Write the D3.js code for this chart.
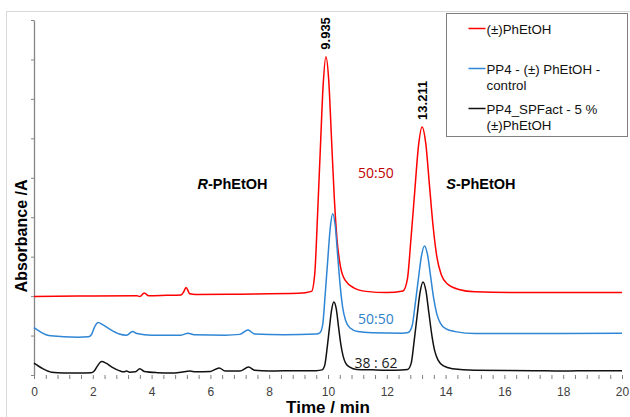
<!DOCTYPE html>
<html>
<head>
<meta charset="utf-8">
<script src="https://cdn.jsdelivr.net/npm/d3@7"></script>
<style>
body { margin: 0; background: #fff; }
svg { display: block; font-family: Arial, "Liberation Sans", sans-serif; }
</style>
</head>
<body>
<svg class="chart" width="630" height="417"></svg>
<script>
// retention time (min) / absorbance (arbitrary units)
const xTickLabels = [0, 2, 4, 6, 8, 10, 12, 14, 16, 18, 20];

const racemic = [
	[0, 1.99], [1.5, 2.0], [3.5, 2.01], [3.6, 1.99], [3.75, 2.08], [3.9, 2.01],
	[4.5, 2.02], [5.0, 2.03], [5.1, 2.12], [5.17, 2.22], [5.3, 2.06], [5.5, 2.04],
	[7.0, 2.05], [9.0, 2.07], [9.44, 2.12],
	[9.55, 2.57], [9.645, 4.06], [9.74, 5.74], [9.835, 7.35], [9.93, 8.07],
	[10.025, 7.47], [10.12, 5.98], [10.215, 4.48], [10.31, 3.41], [10.424, 2.75],
	[10.595, 2.39], [10.88, 2.21], [11.3, 2.12], [12.0, 2.09], [12.55, 2.13],
	[12.7, 2.43], [12.825, 3.48], [12.95, 4.65], [13.075, 5.79], [13.2, 6.29],
	[13.325, 5.87], [13.45, 4.82], [13.575, 3.77], [13.7, 3.01], [13.85, 2.55],
	[14.075, 2.3], [14.45, 2.17], [15.0, 2.11], [16.5, 2.09], [18.0, 2.09], [20.0, 2.09]
];

const control = [
	[0, 1.2], [0.25, 1.08], [0.5, 1.0], [1.0, 0.97], [1.5, 0.96], [1.85, 0.97],
	[1.95, 1.02], [2.05, 1.2], [2.18, 1.33], [2.35, 1.27], [2.6, 1.15], [2.9, 1.04],
	[3.15, 1.01], [3.35, 1.1], [3.5, 1.05], [4.0, 1.01], [5.0, 1.01], [5.24, 1.06],
	[5.45, 1.02], [6.5, 1.01], [7.0, 1.03], [7.28, 1.14], [7.5, 1.04], [8.5, 1.02],
	[9.6, 1.04], [9.72, 1.07], [9.82, 1.28], [9.905, 2.05], [9.99, 2.9],
	[10.075, 3.72], [10.16, 4.09], [10.245, 3.79], [10.33, 3.02], [10.415, 2.26],
	[10.5, 1.71], [10.6, 1.38], [10.755, 1.19], [11.01, 1.1], [11.5, 1.07],
	[12.5, 1.06], [12.73, 1.08], [12.86, 1.24], [12.965, 1.79], [13.07, 2.41],
	[13.175, 3.0], [13.28, 3.27], [13.385, 3.05], [13.49, 2.5], [13.595, 1.94],
	[13.7, 1.55], [13.83, 1.3], [14.015, 1.17], [14.33, 1.1], [15.0, 1.05],
	[18.0, 1.05], [20.0, 1.06]
];

const spfact = [
	[0, 0.3], [0.3, 0.16], [0.6, 0.07], [1.0, 0.05], [1.5, 0.05], [1.95, 0.06],
	[2.05, 0.1], [2.15, 0.22], [2.3, 0.34], [2.45, 0.3], [2.65, 0.2], [2.9, 0.11],
	[3.05, 0.08], [3.15, 0.1], [3.25, 0.07], [3.45, 0.08], [3.6, 0.16], [3.75, 0.09],
	[4.2, 0.06], [4.7, 0.05], [5.0, 0.07], [5.3, 0.1], [5.5, 0.08], [6.0, 0.09],
	[6.3, 0.18], [6.5, 0.1], [7.0, 0.1], [7.3, 0.2], [7.5, 0.12], [8.0, 0.1],
	[9.0, 0.11], [9.6, 0.11], [9.8, 0.13], [9.89, 0.25], [9.97, 0.68], [10.045, 1.17],
	[10.12, 1.64], [10.2, 1.85], [10.28, 1.68], [10.355, 1.24], [10.43, 0.81],
	[10.51, 0.49], [10.6, 0.3], [10.74, 0.2], [10.98, 0.14], [11.5, 0.13],
	[12.3, 0.12], [12.71, 0.14], [12.83, 0.3], [12.93, 0.86], [13.03, 1.49],
	[13.13, 2.09], [13.23, 2.36], [13.33, 2.14], [13.43, 1.58], [13.53, 1.02],
	[13.63, 0.61], [13.75, 0.37], [13.93, 0.23], [14.23, 0.16], [15.0, 0.12],
	[17.0, 0.11], [18.0, 0.1], [19.0, 0.11], [20.0, 0.11]
];

const seriesNames = ["(±)PhEtOH", "PP4 - (±) PhEtOH - control", "PP4_SPFact - 5 % (±)PhEtOH"];
const peakLabels = [["9.935", 9.93, 8.07], ["13.211", 13.2, 6.29]];
const ratioLabels = ["50:50", "50:50", "38 : 62"];

var svg = d3.select("svg.chart"),
    margin = {top: 20, right: 8, bottom: 42, left: 34},
    width = +svg.attr("width"),
    height = +svg.attr("height");

// chart frame
svg.append("rect")
	.attr("x", 6.5).attr("y", 11.5)
	.attr("width", 700).attr("height", 500)
	.attr("fill", "white")
	.attr("stroke", "#d9d9d9");

var x = d3.scaleLinear().domain([0, 20]).range([margin.left, width - margin.right]);
var y = d3.scaleLinear().domain([0, 9]).range([height - margin.bottom, margin.top]);

var line = d3.line()
	.curve(d3.curveMonotoneX)
	.x(function(d) { return x(d[0]); })
	.y(function(d) { return y(d[1]); });

// x ticks: minor every 0.4 min, labels every 2 min
var xMinor = svg.append("g")
	.attr("transform", "translate(0," + y(0) + ")")
	.call(d3.axisBottom(x).tickValues(d3.range(0, 20.01, 0.4)).tickSize(4).tickFormat(""));
xMinor.select(".domain").remove();
xMinor.selectAll("line").attr("stroke", "#7f7f7f");

var xAxis = svg.append("g")
	.attr("transform", "translate(0," + y(0) + ")")
	.call(d3.axisBottom(x).tickValues(xTickLabels).tickSize(0).tickPadding(12));
xAxis.select(".domain").remove();
xAxis.selectAll("text")
	.attr("font-family", "Arial, 'Liberation Sans', sans-serif")
	.attr("font-size", 12)
	.attr("fill", "#404040");

var yAxis = svg.append("g")
	.attr("transform", "translate(" + x(0) + ",0)")
	.call(d3.axisLeft(y).ticks(9).tickSize(3).tickSizeOuter(0).tickFormat(""));
yAxis.select(".domain").attr("stroke", "#868686").attr("stroke-width", 1.3);
yAxis.selectAll("line").attr("stroke", "#868686");

// traces
var colors = ["#ff0000", "#2f86d4", "#111111"];
[racemic, control, spfact].forEach(function(s, i) {
	svg.append("path")
		.datum(s)
		.attr("fill", "none")
		.attr("stroke", colors[i])
		.attr("stroke-width", 1.5)
		.attr("stroke-linejoin", "round")
		.attr("d", line);
});

// retention times over the red peaks
peakLabels.forEach(function(p) {
	svg.append("text")
		.attr("transform", "translate(" + (x(p[1]) + 4.5) + "," + (y(p[2]) - 7) + ") rotate(-90)")
		.attr("font-size", 13)
		.attr("font-weight", "bold")
		.text(p[0]);
});

// enantiomer names
function enantiomer(letter, t, v) {
	var tx = svg.append("text")
		.attr("x", x(t)).attr("y", y(v))
		.attr("text-anchor", "middle")
		.attr("font-size", 14.5)
		.attr("font-weight", "bold");
	tx.append("tspan").attr("font-style", "italic").text(letter);
	tx.append("tspan").text("-PhEtOH");
}
enantiomer("R", 6.75, 4.72);
enantiomer("S", 15.2, 4.72);

// ratios
var ratioColors = ["#c00000", "#2e80c8", "#1a1a1a"];
var ratioY = [5.0, 1.29, 0.17];
ratioLabels.forEach(function(r, i) {
	svg.append("text")
		.attr("x", x(11.63)).attr("y", y(ratioY[i]))
		.attr("text-anchor", "middle")
		.attr("font-family", "'Open Sans', sans-serif")
		.attr("font-size", 14)
		.attr("fill", ratioColors[i])
		.text(r);
});

// axis titles
svg.append("text")
	.attr("transform", "translate(27," + y(3.525) + ") rotate(-90)")
	.attr("text-anchor", "middle")
	.attr("font-size", 16)
	.attr("font-weight", "bold")
	.text("Absorbance /A");

svg.append("text")
	.attr("x", x(10)).attr("y", 413)
	.attr("text-anchor", "middle")
	.attr("font-size", 17)
	.attr("font-weight", "bold")
	.text("Time / min");

// legend
var legend = svg.append("g").attr("transform", "translate(446.5,13.5)");
legend.append("rect")
	.attr("width", 181).attr("height", 123)
	.attr("fill", "white")
	.attr("stroke", "#7f7f7f");

var legendRows = [[seriesNames[0]], ["PP4 - (±) PhEtOH -", "control"], ["PP4_SPFact - 5 %", "(±)PhEtOH"]];
var legendY = [15, 55, 95];
legendRows.forEach(function(rows, i) {
	legend.append("line")
		.attr("x1", 22).attr("x2", 39)
		.attr("y1", legendY[i]).attr("y2", legendY[i])
		.attr("stroke", colors[i])
		.attr("stroke-width", 1.5);
	rows.forEach(function(txt, j) {
		legend.append("text")
			.attr("x", 40).attr("y", legendY[i] + 5 + j * 16)
			.attr("font-size", 13.3)
			.attr("fill", "#111")
			.text(txt);
	});
});
</script>
</body>
</html>
